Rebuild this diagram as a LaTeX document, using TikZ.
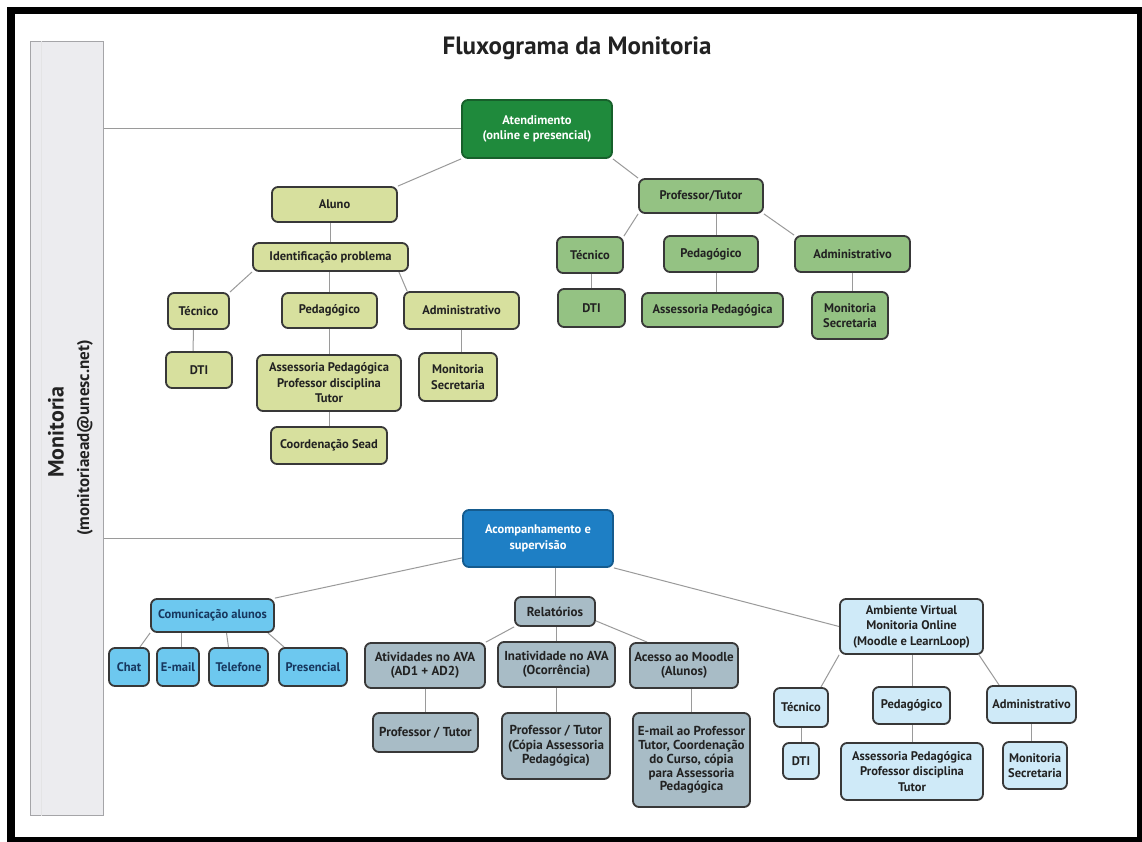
\documentclass[tikz,border=0pt]{standalone}
\usepackage{fontspec}
\setmainfont{PT Sans}
\usetikzlibrary{calc}
\pgfdeclarelayer{back0}
\pgfdeclarelayer{background}
\pgfsetlayers{back0,background,main}
\definecolor{bordc}{HTML}{383838}
\definecolor{connc}{HTML}{9A9A9A}
\definecolor{olivc}{HTML}{D7E09E}
\definecolor{profc}{HTML}{94C283}
\definecolor{atenc}{HTML}{1F8A3C}
\definecolor{atenb}{HTML}{17602B}
\definecolor{acompc}{HTML}{1E7FC5}
\definecolor{acompb}{HTML}{155B8E}
\definecolor{comc}{HTML}{6DC8EF}
\definecolor{comt}{HTML}{17375E}
\definecolor{relc}{HTML}{A8BCC6}
\definecolor{ambc}{HTML}{CFEAF8}
\definecolor{barc}{HTML}{ECECEF}
\definecolor{barb}{HTML}{A5A5A8}
\definecolor{txtc}{HTML}{222222}
\tikzset{
  box/.style={draw=bordc, line width=1.8pt, rounded corners=6pt, align=center,
    inner sep=1pt, text=txtc, font=\bfseries\fontsize{12.5}{15.5}\selectfont},
  olivbox/.style={box, fill=olivc},
  profbox/.style={box, fill=profc},
  combox/.style={box, fill=comc, text=comt},
  relbox/.style={box, fill=relc, font=\bfseries\fontsize{13}{14.5}\selectfont},
  ambbox/.style={box, fill=ambc},
  conn/.style={draw=connc, line width=1pt},
  sz/.style n args={2}{minimum width=#1pt, minimum height=#2pt}
}
\begin{document}
\begin{tikzpicture}[x=1pt,y=-1pt]
\useasboundingbox (0,0) rectangle (1142,842);
\begin{pgfonlayer}{back0}
  \fill[white] (0,0) rectangle (1142,842);
  \fill[black] (7,7) rectangle (1142,842);
  \fill[white] (15,14) rectangle (1137,837);
\end{pgfonlayer}

% left bar
\node[draw=barb, fill=barc, line width=1pt, sz={73}{773}, inner sep=0pt] (bar) at (66.5,428.5) {};
\draw[draw=barb!30, line width=0.6pt] ($(bar.north west)+(12,0)$) -- ($(bar.south west)+(12,0)$);
\node[rotate=90, font=\bfseries\fontsize{22}{26}\selectfont, text=txtc] (montxt) at (56,432) {Monitoria};
\node[rotate=90, font=\bfseries\fontsize{17}{19}\selectfont, text=txtc] (mailtxt) at (85,438) {(monitoriaead@unesc.net)};

% title
\node[font=\bfseries\fontsize{25}{29}\selectfont, text=txtc] (title) at (577,48) {Fluxograma da Monitoria};

% top: atendimento
\node[box, fill=atenc, draw=atenb, text=white, sz={150}{58}] (aten) at (537,129) {Atendimento\\(online e presencial)};
\node[olivbox, sz={125}{35}] (aluno) at (334.5,204.5) {Aluno};
\node[olivbox, sz={155}{28}] (ident) at (330.5,257) {Identificação problema};
\node[olivbox, sz={61}{36}] (tec1) at (198.5,311) {Técnico};
\node[olivbox, sz={95}{35}] (ped1) at (329.5,310.5) {Pedagógico};
\node[olivbox, sz={115}{37}] (adm1) at (461.5,310.5) {Administrativo};
\node[olivbox, sz={66}{36}] (dti1) at (199,370) {DTI};
\node[olivbox, sz={144}{56}] (ass1) at (329,383) {Assessoria Pedagógica\\Professor disciplina\\Tutor};
\node[olivbox, sz={78}{48}] (mon1) at (458,377) {Monitoria\\Secretaria};
\node[olivbox, sz={116}{37}] (coord) at (329,445.5) {Coordenação Sead};

\node[profbox, sz={124}{34}] (prof) at (701,196) {Professor/Tutor};
\node[profbox, sz={66}{36}] (tec2) at (590,255) {Técnico};
\node[profbox, sz={94}{36}] (ped2) at (711,254) {Pedagógico};
\node[profbox, sz={115}{36}] (adm2) at (852.5,254) {Administrativo};
\node[profbox, sz={67}{38}] (dti2) at (591.5,308) {DTI};
\node[profbox, sz={141}{34}] (ass2) at (712.5,310) {Assessoria Pedagógica};
\node[profbox, sz={76}{47}] (mon2) at (850,315.5) {Monitoria\\Secretaria};

% bottom: acompanhamento
\node[box, fill=acompc, draw=acompb, text=white, sz={150}{57}] (acomp) at (538,538.5) {Acompanhamento e\\supervisão};

\node[combox, sz={123}{33}] (com) at (212.5,615.5) {Comunicação alunos};
\node[combox, sz={40}{38}] (chat) at (129,667) {Chat};
\node[combox, sz={42}{38}] (email) at (178,667) {E-mail};
\node[combox, sz={59}{38}] (tel) at (238.5,667) {Telefone};
\node[combox, sz={68}{38}] (pres) at (313,667) {Presencial};

\node[relbox, sz={80}{29}] (rel) at (555,611.5) {Relatórios};
\node[relbox, sz={120}{45}] (ativ) at (425,665.5) {Atividades no AVA\\(AD1 + AD2)};
\node[relbox, sz={117}{45}] (inat) at (556.5,664.5) {Inatividade no AVA\\(Ocorrência)};
\node[relbox, sz={108}{45}] (aces) at (684,665.5) {Acesso ao Moodle\\(Alunos)};
\node[relbox, sz={105}{39}] (pt1) at (425.5,732.5) {Professor / Tutor};
\node[relbox, sz={108}{66}] (pt2) at (556,746) {Professor / Tutor\\(Cópia Assessoria\\Pedagógica)};
\node[relbox, sz={117}{94}, font=\bfseries\fontsize{13}{13.8}\selectfont] (em) at (691.5,760) {E-mail ao Professor\\Tutor, Coordenação\\do Curso, cópia\\para Assessoria\\Pedagógica};

\node[ambbox, sz={143}{55}] (amb) at (911.5,626.5) {Ambiente Virtual\\Monitoria Online\\(Moodle e LearnLoop)};
\node[ambbox, sz={54}{39}] (tec3) at (801,707.5) {Técnico};
\node[ambbox, sz={77}{37}] (ped3) at (911.5,705.5) {Pedagógico};
\node[ambbox, sz={89}{37}] (adm3) at (1031.5,704.5) {Administrativo};
\node[ambbox, sz={36}{36}] (dti3) at (801,761) {DTI};
\node[ambbox, sz={142}{57}] (ass3) at (912,771.5) {Assessoria Pedagógica\\Professor disciplina\\Tutor};
\node[ambbox, sz={64}{47}] (mon3) at (1035,765.5) {Monitoria\\Secretaria};

% helper points for connectors
\coordinate (admA) at ($(ident.south east)+(-10,0)$);
\coordinate (admB) at ($(adm1.north west)+(4,0)$);
\coordinate (tecA) at ($(tec1.south)+(-5,0)$);
\coordinate (dtiA) at ($(dti1.north)+(-6,0)$);
\coordinate (profA) at ($(prof.south)+(15,0)$);
\coordinate (pedA) at ($(ped2.north)+(5,0)$);
\coordinate (pedB) at ($(ped2.south)+(5,0)$);
\coordinate (acA) at ($(acomp.south west)+(0,-10)$);
\coordinate (chatA) at ($(chat.north east)+(-10,0)$);
\coordinate (emA) at ($(email.north)+(3,0)$);
\coordinate (telA) at ($(com.south)+(14,0)$);
\coordinate (telB) at ($(tel.north)+(-10,0)$);
\coordinate (presA) at ($(com.south east)+(-7,0)$);
\coordinate (presB) at ($(pres.north west)+(6,0)$);
\coordinate (relA) at ($(rel.south east)+(0,-6)$);
\coordinate (acesB) at ($(aces.north west)+(18,0)$);
\coordinate (tec3B) at ($(tec3.north east)+(-8,0)$);
\coordinate (ambA) at ($(amb.south)+(1,0)$);
\coordinate (ambC) at ($(amb.south east)+(-5,0)$);
\coordinate (adm3B) at ($(adm3.north west)+(13,0)$);
\coordinate (ped3A) at ($(ped3.south)+(1,0)$);

\begin{pgfonlayer}{background}
  \draw[conn] (bar.east |- aten.west) -- (aten.west);
  \draw[conn] (bar.east |- acomp.west) -- (acomp.west);
  % atendimento tree
  \draw[conn] (aten.south west) -- (aluno.north east);
  \draw[conn] (aten.south east) -- (prof.north west);
  \draw[conn] (aluno.south -| ident.north) -- (ident.north);
  \draw[conn] (ident.south west) -- (tec1.north east);
  \draw[conn] (ident.south -| ped1.north) -- (ped1.north);
  \draw[conn] (admA) -- (admB);
  \draw[conn] (tecA) -- (dtiA);
  \draw[conn] (ped1.south -| ass1.north) -- (ass1.north);
  \draw[conn] (adm1.south) -- (adm1.south |- mon1.north);
  \draw[conn] (ass1.south -| coord.north) -- (coord.north);
  \draw[conn] (prof.south west) -- (tec2.north east);
  \draw[conn] (prof.south east) -- (adm2.north west);
  \draw[conn] (profA) -- (pedA);
  \draw[conn] (tec2.south -| dti2.north) -- (dti2.north);
  \draw[conn] (pedB) -- (pedB |- ass2.north);
  \draw[conn] (adm2.south) -- (adm2.south |- mon2.north);
  % acompanhamento tree
  \draw[conn] (acA) -- (com.north east);
  \draw[conn] (acomp.south east) -- (amb.west);
  \draw[conn] (acomp.south -| rel.north) -- (rel.north);
  \draw[conn] (com.south west) -- (chatA);
  \draw[conn] (emA |- com.south) -- (emA);
  \draw[conn] (telA) -- (telB);
  \draw[conn] (presA) -- (presB);
  \draw[conn] (rel.south west) -- (ativ.north east);
  \draw[conn] (rel.south -| inat.north) -- (inat.north);
  \draw[conn] (relA) -- (acesB);
  \draw[conn] (ativ.south -| pt1.north) -- (pt1.north);
  \draw[conn] (inat.south -| pt2.north) -- (pt2.north);
  \draw[conn] (aces.south -| em.north) -- (em.north);
  \draw[conn] (amb.south west) -- (tec3B);
  \draw[conn] (ambA) -- (ambA |- ped3.north);
  \draw[conn] (ambC) -- (adm3B);
  \draw[conn] (tec3.south) -- (tec3.south |- dti3.north);
  \draw[conn] (ped3A) -- (ped3A |- ass3.north);
  \draw[conn] (adm3.south) -- (adm3.south |- mon3.north);
\end{pgfonlayer}
\end{tikzpicture}
\end{document}
